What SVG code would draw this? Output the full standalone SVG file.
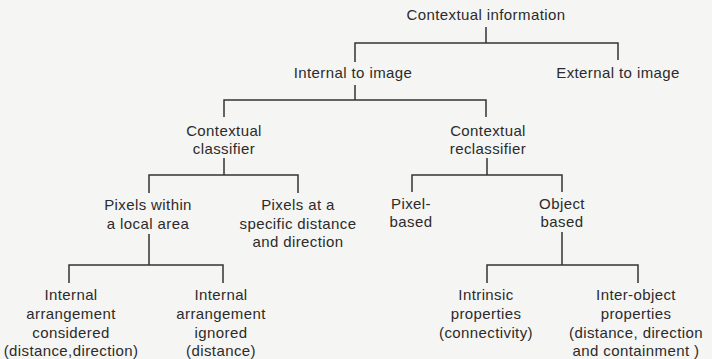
<svg xmlns="http://www.w3.org/2000/svg" width="712" height="359" viewBox="0 0 712 359">
<style>
text{font-family:"Liberation Sans",Arial,sans-serif;font-size:15px;fill:#2b2b2b;text-anchor:middle;letter-spacing:0.4px}
.c{fill:none;stroke:#333;stroke-width:1.5}
</style>
<rect width="712" height="359" fill="#f5f5f3"/>
<g id="connectors">
<path class="c" d="M486 27V43M355 62V43H618V60"/>
<path class="c" d="M355 85V100M224 117V100H486V117"/>
<path class="c" d="M224 158V175M149 193V175H298V193"/>
<path class="c" d="M487 158V175M412 192V175H562V192"/>
<path class="c" d="M149 234V265M69 283V265H223V283"/>
<path class="c" d="M562 232V265M487 283V265H638V283"/>
</g>
<g id="root"><text x="486" y="20">Contextual information</text></g>
<g id="internal"><text x="353" y="78">Internal to image</text></g>
<g id="external"><text x="618" y="78">External to image</text></g>
<g id="classifier"><text x="224" y="136">Contextual</text><text x="224" y="154">classifier</text></g>
<g id="reclassifier"><text x="488" y="136">Contextual</text><text x="488" y="154">reclassifier</text></g>
<g id="local"><text x="148" y="210">Pixels within</text><text x="148" y="229">a local area</text></g>
<g id="specific"><text x="298" y="210">Pixels at a</text><text x="298" y="229">specific distance</text><text x="298" y="247">and direction</text></g>
<g id="pixelbased"><text x="411" y="209">Pixel-</text><text x="411" y="227">based</text></g>
<g id="objectbased"><text x="562" y="209">Object</text><text x="562" y="227">based</text></g>
<g id="considered"><text x="71" y="300">Internal</text><text x="71" y="319">arrangement</text><text x="71" y="338">considered</text><text x="71" y="356">(distance,direction)</text></g>
<g id="ignored"><text x="221" y="300">Internal</text><text x="221" y="319">arrangement</text><text x="221" y="338">ignored</text><text x="221" y="356">(distance)</text></g>
<g id="intrinsic"><text x="486" y="300">Intrinsic</text><text x="486" y="319">properties</text><text x="486" y="338">(connectivity)</text></g>
<g id="interobject"><text x="636" y="300">Inter-object</text><text x="636" y="319">properties</text><text x="636" y="338">(distance, direction</text><text x="636" y="356">and containment )</text></g>
</svg>
